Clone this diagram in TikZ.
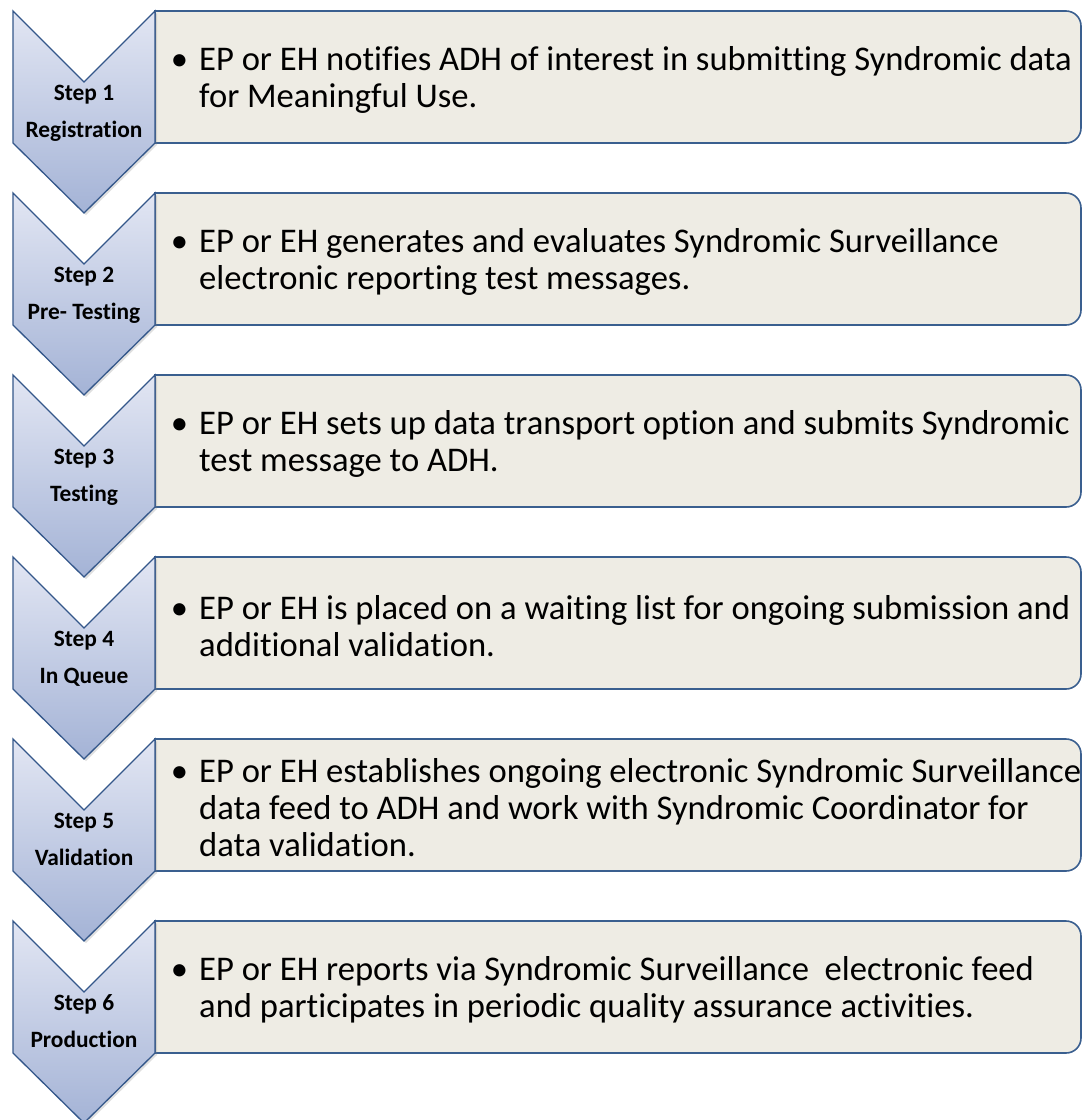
\documentclass[tikz,border=0pt]{standalone}
\usepackage{fontspec}
\setmainfont{Carlito}[Ligatures=NoCommon]
\usetikzlibrary{shadows}
\definecolor{boxfill}{HTML}{EEECE4}
\definecolor{boxline}{HTML}{3A5F8F}
\definecolor{chevtop}{HTML}{E2E6F3}
\definecolor{chevbot}{HTML}{A4B3D6}
\definecolor{chevline}{HTML}{34578A}
\tikzset{
  stepbox/.style={fill=boxfill, draw=boxline, line width=1.6pt},
  chevron/.style={top color=chevtop, bottom color=chevbot, draw=chevline, line width=1.3pt, line join=miter,
     drop shadow={opacity=0.25, shadow xshift=2pt, shadow yshift=-2pt}},
  desc/.style={anchor=west, align=left, inner sep=0pt, font=\fontsize{34.6}{37}\selectfont, text=black},
  lbl/.style={anchor=base, inner sep=0pt, font=\bfseries\fontsize{23.4}{26}\selectfont, text=black}
}
\begin{document}
\begin{tikzpicture}[x=1pt, y=-1pt]
\useasboundingbox (0,0) rectangle (1082,1120);
\foreach \i/\lab/\txt in {
 1/Registration/{EP or EH notifies ADH of interest in submitting Syndromic data\\for Meaningful Use.},
 2/Pre- Testing/{EP or EH generates and evaluates Syndromic Surveillance\\electronic reporting test messages.},
 3/Testing/{EP or EH sets up data transport option and submits Syndromic\\test message to ADH.},
 4/In Queue/{EP or EH is placed on a waiting list for ongoing submission and\\additional validation.},
 5/Validation/{EP or EH establishes ongoing electronic Syndromic Surveillance\\data feed to ADH and work with Syndromic Coordinator for\\data validation.},
 6/Production/{EP or EH reports via Syndromic Surveillance\ \ electronic feed\\and participates in periodic quality assurance activities.}}
{
  \pgfmathsetmacro{\t}{11+182*(\i-1)}
  \draw[stepbox] (155,\t) -- (1066,\t) arc[start angle=-90, end angle=0, radius=15]
     -- (1081,\t+117) arc[start angle=0, end angle=90, radius=15] -- (155,\t+132) -- cycle;
  \path[chevron] (13,\t) -- (84,\t+71) -- (155,\t) -- (155,\t+132) -- (84,\t+202) -- (13,\t+132) -- cycle;
  \node[lbl] (s\i) at (84,\t+89) {Step \i};
  \node[lbl] (l\i) at (84,\t+126) {\lab};
  \node[desc] (d\i) at (199,\t+69) {\makebox[0pt][r]{\textbullet\hspace{11pt}}\txt};
}
\end{tikzpicture}
\end{document}
